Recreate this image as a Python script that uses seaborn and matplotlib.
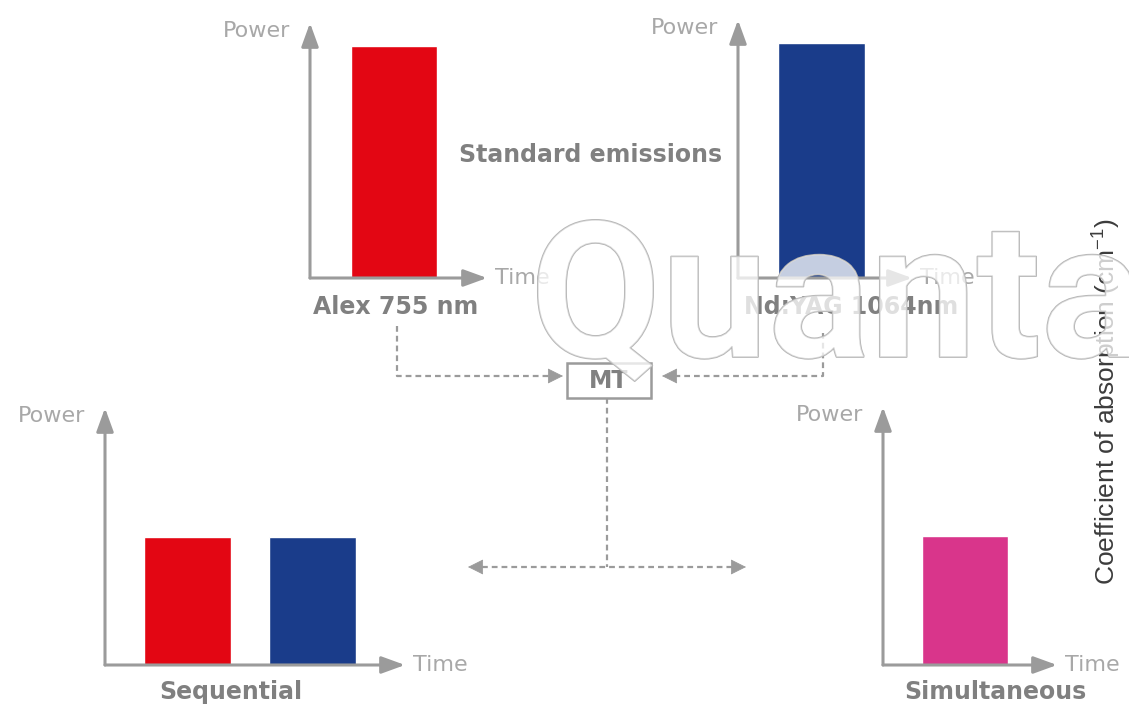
import matplotlib
matplotlib.use("Agg")
import matplotlib.pyplot as plt
import matplotlib.patheffects as pe
from matplotlib.patches import Rectangle
import seaborn as sns

# ---------------- data ----------------
alex_cats = ["Alex 755 nm"]
alex_power = [1.0]
ndyag_cats = ["Nd:YAG 1064nm"]
ndyag_power = [1.0]
seq_cats = ["Alex 755 nm", "Nd:YAG 1064nm"]
seq_power = [0.55, 0.55]
sim_cats = ["Alex + Nd:YAG"]
sim_power = [0.55]

panel_titles = ["Alex 755 nm", "Nd:YAG 1064nm", "Sequential", "Simultaneous"]
x_axis_label = "Time"
y_axis_label = "Power"
header_text = "Standard emissions"
mixer_text = "MT"
side_text = r"Coefficient of absorption (cm$^{-1}$)"
watermark_text = "Quanta"

RED = "#e30613"
BLUE = "#1a3c8a"
MAGENTA = "#d9358b"
AXIS_GRAY = "#9b9b9b"
LIGHT_TXT = "#a8a8a8"
BOLD_TXT = "#808080"

sns.set_style("white")
plt.rcParams["font.family"] = ["DejaVu Sans"]
plt.rcParams["mathtext.fontset"] = "custom"
plt.rcParams["mathtext.rm"] = "Liberation Sans"
plt.rcParams["mathtext.it"] = "Liberation Sans"

W, H = 1129, 712
fig = plt.figure(figsize=(W / 100, H / 100), dpi=100)
fig.patch.set_facecolor("white")

# background pixel-coordinate axes for the diagram annotations
ax0 = fig.add_axes([0, 0, 1, 1])
ax0.set_xlim(0, W)
ax0.set_ylim(H, 0)
ax0.axis("off")

UNIT = 125.0   # pixels per category step
BAR_W = 0.69


def add_panel(left, right, top, bottom, first_center, cats, vals, colors):
    ax = fig.add_axes([left / W, 1 - bottom / H, (right - left) / W, (bottom - top) / H])
    ax.patch.set_alpha(0)
    sns.barplot(x=cats, y=vals, hue=cats, palette=colors, width=BAR_W,
                saturation=1, ax=ax, legend=False, zorder=1)
    ax.set_xlim((left - first_center) / UNIT, (right - first_center) / UNIT)
    ax.set_ylim(0, 1.1)
    ax.axis("off")
    head = "-|>,head_length=0.55,head_width=0.2"
    for xy in [(1, 0), (0, 1)]:
        ax.annotate("", xy=xy, xytext=(0, 0), xycoords="axes fraction",
                    textcoords="axes fraction", annotation_clip=False,
                    arrowprops=dict(arrowstyle=head, color=AXIS_GRAY, lw=2.2,
                                    mutation_scale=26, shrinkA=0, shrinkB=0),
                    zorder=3)
    ax.annotate(y_axis_label, xy=(0, 1), xycoords="axes fraction",
                xytext=(-20, -8), textcoords="offset pixels",
                ha="right", va="center", fontsize=16, color=LIGHT_TXT,
                annotation_clip=False)
    ax.annotate(x_axis_label, xy=(1, 0), xycoords="axes fraction",
                xytext=(8, 0), textcoords="offset pixels",
                ha="left", va="center", fontsize=16, color=LIGHT_TXT,
                annotation_clip=False)
    return ax


add_panel(310, 487, 23, 278, 394, alex_cats, alex_power, [RED])
add_panel(738, 912, 20, 278, 821.5, ndyag_cats, ndyag_power, [BLUE])
add_panel(105, 405, 408, 665, 187.5, seq_cats, seq_power, [RED, BLUE])
add_panel(883, 1057, 407, 665, 965, sim_cats, sim_power, [MAGENTA])

# bold labels
bold_kw = dict(fontsize=17, fontweight="bold", color=BOLD_TXT, ha="center", va="center")
ax0.text(396, 307, panel_titles[0], **bold_kw)
ax0.text(851, 307, panel_titles[1], **bold_kw)
ax0.text(231, 692, panel_titles[2], **bold_kw)
ax0.text(995, 692, panel_titles[3], **bold_kw)
ax0.text(591, 155, header_text, **bold_kw)

# MT box
ax0.add_patch(Rectangle((567, 363), 84, 35, fill=False, ec=AXIS_GRAY, lw=1.8))
ax0.text(609, 381, mixer_text, **bold_kw)

# dashed connectors
dash_kw = dict(color=AXIS_GRAY, lw=1.6, ls=(0, (2.6, 1.8)), solid_capstyle="butt")
ax0.plot([397, 397, 550], [326, 376, 376], **dash_kw)
ax0.plot([823, 823, 676], [333, 376, 376], **dash_kw)
ax0.plot([607, 607], [398, 567], **dash_kw)
ax0.plot([482, 732], [567, 567], **dash_kw)


def head(tip, tail):
    ax0.annotate("", xy=tip, xytext=tail,
                 arrowprops=dict(arrowstyle="-|>,head_length=0.5,head_width=0.25",
                                 color=AXIS_GRAY, lw=0.5, mutation_scale=20,
                                 shrinkA=0, shrinkB=0))


head((563, 376), (548, 376))
head((662, 376), (677, 376))
head((468, 567), (483, 567))
head((746, 567), (731, 567))

# rotated side label
ax0.text(1107, 402, side_text, rotation=90, ha="center", va="center",
         fontsize=19, color="#3c3c3c", family="Liberation Sans")

# watermark on top of everything
wm = fig.text(530, 357, watermark_text, transform=ax0.transData,
              ha="left", va="baseline", fontsize=137, family="Roboto",
              fontweight="bold", color=(1, 1, 1, 0.5), zorder=20)
wm.set_path_effects([pe.Stroke(linewidth=1.2, foreground="#b4b4b4"), pe.Normal()])

fig.savefig("out.png", dpi=100, facecolor="white")
